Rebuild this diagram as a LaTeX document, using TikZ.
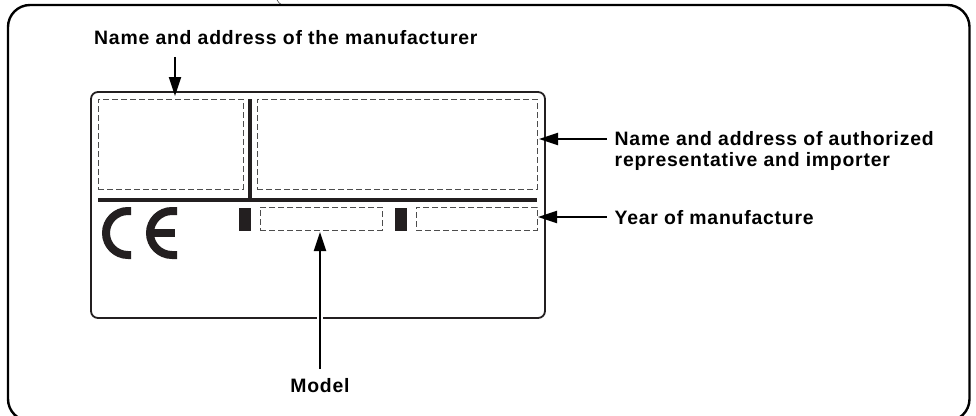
\documentclass[tikz,border=0pt]{standalone}
\usepackage{fontspec}
\setmainfont[LetterSpace=4]{Liberation Sans}
\usetikzlibrary{arrows.meta}
\definecolor{inkcol}{HTML}{231F20}
\definecolor{dashcol}{HTML}{4D4D4D}
\tikzstyle{frame} = [draw=black,line width=2.4pt,rounded corners=22pt]
\tikzstyle{plate} = [draw=inkcol,line width=1.8pt,rounded corners=7pt,minimum width=454pt,minimum height=226pt,inner sep=0pt]
\tikzstyle{slot} = [draw=dashcol,line width=1pt,dash pattern=on 6pt off 3pt,inner sep=0pt]
\tikzstyle{tag} = [fill=inkcol,minimum width=12pt,minimum height=23pt,inner sep=0pt]
\tikzstyle{bar} = [draw=inkcol,line width=4pt]
\tikzstyle{ce} = [draw=inkcol,line width=8pt]
\tikzstyle{callout} = [-{Triangle[length=19pt,width=12pt]},black,line width=2pt]
\tikzset{
  caption/.style = {
    font = \fontsize{19.4}{21}\selectfont\bfseries,
    inner sep = 0pt,
    align = left,
  },
}

\begin{document}
\begin{tikzpicture}[x=1pt,y=-1pt]
    \useasboundingbox (0,0) rectangle (976,415);
    \clip (0,0) rectangle (976,415);

    %outer frame
    \draw[frame] (8,5) rectangle (969.5,421);
    \draw[black,thin] (277,0) to[bend right=15] (282,5);

    %plate
    \node[plate] (plate) at (318,205) {};
    \node[slot,minimum width=145pt,minimum height=90pt] (maker) at (170.5,144) {};
    \node[slot,minimum width=280pt,minimum height=90pt] (agent) at (397,144) {};
    \node[slot,minimum width=122pt,minimum height=23pt] (model) at (321,218.5) {};
    \node[slot,minimum width=121pt,minimum height=23pt] (year) at (476.5,218.5) {};
    \node[tag] (tagmodel) at (245,219.5) {};
    \node[tag] (tagyear) at (401,219.5) {};

    \draw[bar] (98,200) -- (537,200);
    \draw[bar] (250,99) -- (250,200);

    %CE sign
    \draw[ce] (131,211) -- (128,211) arc[start angle=90,end angle=270,radius=22pt] -- (131,255);
    \draw[ce] (177,211) -- (172,211) arc[start angle=90,end angle=270,radius=22pt] -- (177,255);
    \draw[ce] (152,233) -- (175,233);

    %captions
    \node[caption,anchor=base west] (makerlab) at (94,44.5) {Name and address of the manufacturer};
    \node[caption,anchor=west] (agentlab) at (614.5,151) {Name and address of authorized\\representative and importer};
    \node[caption,anchor=base west] (yearlab) at (614.5,224) {Year of manufacture};
    \node[caption,anchor=base] (modellab) at (320,392.5) {Model};

    %arrow tips
    \coordinate (makertip) at (175,96);
    \coordinate (agenttip) at (539,139);
    \coordinate (yeartip) at (538,217);
    \coordinate (modeltip) at (320,232);

    % Paths
    \draw[callout,shorten <=12pt] (makerlab.south -| makertip) -- (makertip);
    \draw[callout,shorten <=8pt] (agenttip -| agentlab.west) -- (agenttip);
    \draw[callout,shorten <=8pt] (yeartip -| yearlab.west) -- (yeartip);
    \draw[white,line width=6pt,shorten <=30pt,shorten >=60pt] (modellab.north) -- (modeltip);
    \draw[callout,shorten <=9pt] (modellab.north) -- (modeltip);
\end{tikzpicture}
\end{document}
